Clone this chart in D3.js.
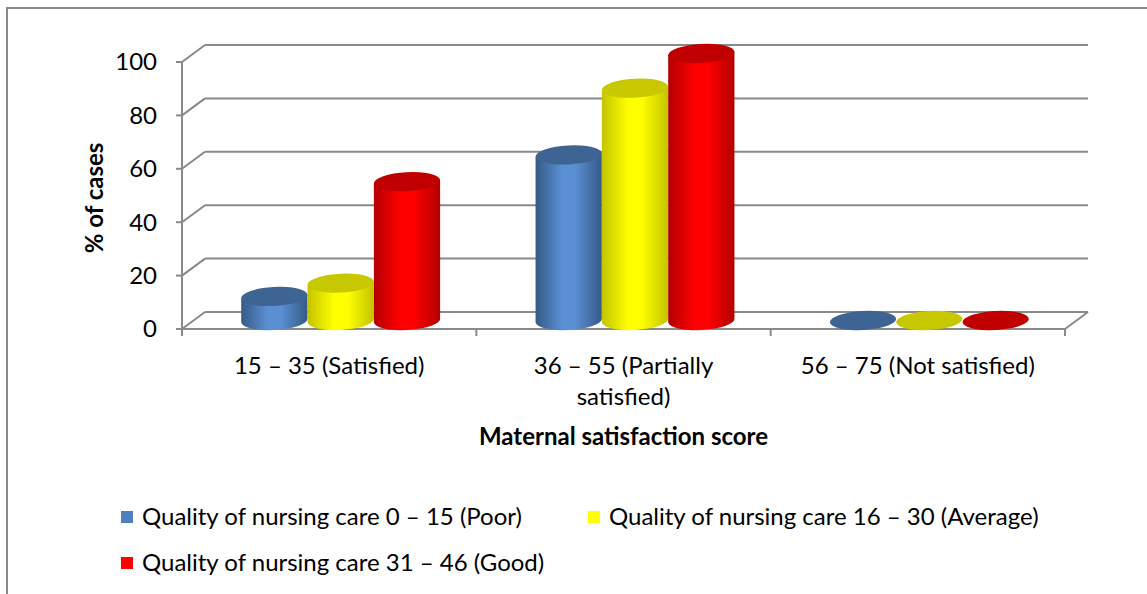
<!DOCTYPE html>
<html>
<head>
<meta charset="utf-8">
<script src="https://cdn.jsdelivr.net/npm/d3@7"></script>
<style>
  html, body { margin: 0; padding: 0; background: #fff; }
  svg { display: block; font-family: Lato, "Open Sans", sans-serif; }
</style>
</head>
<body>
<svg id="chart" width="1147" height="594"></svg>
<script>
// ---- data ----
const categories = ["15 – 35 (Satisfied)", "36 – 55 (Partially satisfied)", "56 – 75 (Not satisfied)"];
const seriesNames = [
  "Quality of nursing care 0 – 15 (Poor)",
  "Quality of nursing care 16 – 30 (Average)",
  "Quality of nursing care 31 – 46 (Good)"
];
const poorValues = [9, 62, 0];
const averageValues = [14, 87, 0];
const goodValues = [52, 100, 0];
const yTicks = [0, 20, 40, 60, 80, 100];
const yAxisTitle = "% of cases";
const xAxisTitle = "Maternal satisfaction score";

const seriesValues = [poorValues, averageValues, goodValues];
const palette = [
  { mid: "#5a8fd3", edge: "#365a87", top: "#3d6493" },
  { mid: "#ffff00", edge: "#c4c400", top: "#c8c800" },
  { mid: "#ff0000", edge: "#b30000", top: "#c00000" }
];

// ---- layout ----
const svg = d3.select("#chart");
const FS = 24;
const plotLeft = 182, plotRight = 1065, plotBottom = 329, plotTop = 62;
const depthX = 23, depthY = -17;   // back wall offset
const midX = depthX / 2, midY = depthY / 2;
const gridColor = "#8a8a8a";

// border
svg.append("rect").attr("x", 7).attr("y", 8).attr("width", 1160).attr("height", 600)
  .attr("fill", "none").attr("stroke", "#898989").attr("stroke-width", 2);

const y = d3.scaleLinear().domain([0, 100]).range([plotBottom, plotTop]);
const x0 = d3.scaleBand().domain(categories).range([plotLeft, plotRight]).paddingInner(0.324).paddingOuter(0.162);
const x1 = d3.scaleBand().domain(d3.range(3)).range([0, x0.bandwidth()]).padding(0);

const grid = svg.append("g").attr("stroke", gridColor).attr("stroke-width", 2).attr("fill", "none");
yTicks.forEach(t => {
  grid.append("line").attr("x1", plotLeft + depthX).attr("x2", plotRight + depthX)
    .attr("y1", y(t) + depthY).attr("y2", y(t) + depthY);
  grid.append("line").attr("x1", plotLeft).attr("x2", plotLeft + depthX)
    .attr("y1", y(t)).attr("y2", y(t) + depthY);
  grid.append("line").attr("x1", plotLeft - 6).attr("x2", plotLeft).attr("y1", y(t)).attr("y2", y(t));
});
grid.append("line").attr("x1", plotLeft).attr("x2", plotRight).attr("y1", plotBottom).attr("y2", plotBottom);
grid.append("line").attr("x1", plotRight).attr("x2", plotRight + depthX).attr("y1", plotBottom).attr("y2", plotBottom + depthY);
grid.append("line").attr("x1", plotLeft).attr("x2", plotLeft).attr("y1", plotTop).attr("y2", plotBottom);
const catEdges = categories.map(c => x0(c) - x0.step() * x0.paddingInner() / 2).concat([plotRight]);
catEdges.forEach(e => {
  grid.append("line").attr("x1", e).attr("x2", e).attr("y1", plotBottom).attr("y2", plotBottom + 7);
});

// y tick labels
svg.append("g").selectAll("text").data(yTicks).join("text")
  .attr("x", 157).attr("y", d => y(d)).attr("dy", "0.35em")
  .attr("text-anchor", "end").attr("font-size", FS).attr("fill", "#000")
  .text(d => d);

// y axis title
svg.append("text").attr("transform", "translate(103,198) rotate(-90)")
  .attr("text-anchor", "middle").attr("font-size", FS).attr("font-weight", "bold")
  .attr("fill", "#000").text(yAxisTitle);

// gradients
const defs = svg.append("defs");
palette.forEach((p, i) => {
  const g = defs.append("linearGradient").attr("id", "grad" + i)
    .attr("x1", "0%").attr("x2", "100%").attr("y1", "0%").attr("y2", "0%");
  g.append("stop").attr("offset", "0%").attr("stop-color", p.edge);
  g.append("stop").attr("offset", "40%").attr("stop-color", p.mid);
  g.append("stop").attr("offset", "60%").attr("stop-color", p.mid);
  g.append("stop").attr("offset", "100%").attr("stop-color", p.edge);
});

// cylinders
const tiltDeg = -3;
const rot = tiltDeg * Math.PI / 180;
const ry = 9.5;
const bars = svg.append("g");
categories.forEach((c, ci) => {
  seriesValues.forEach((vals, si) => {
    const v = vals[ci];
    const bx = x0(c) + x1(si) + midX;
    const w = x1.bandwidth();
    const rx = w / 2;
    const cx = bx + rx;
    const cyTop = y(v) + midY;
    const cyBot = y(0) + midY;
    const dxr = rx * Math.cos(rot), dyr = rx * Math.sin(rot);
    const g = bars.append("g");
    if (v > 0) {
      const path = `M${cx - dxr},${cyTop - dyr} L${cx - dxr},${cyBot - dyr} ` +
        `A${rx},${ry} ${tiltDeg} 0 0 ${cx + dxr},${cyBot + dyr} L${cx + dxr},${cyTop + dyr} Z`;
      g.append("path").attr("d", path).attr("fill", `url(#grad${si})`);
    }
    g.append("ellipse").attr("cx", cx).attr("cy", cyTop).attr("rx", rx).attr("ry", ry)
      .attr("transform", `rotate(${tiltDeg},${cx},${cyTop})`)
      .attr("fill", palette[si].top);
  });
});

// category labels with wrapping
const catG = svg.append("g");
categories.forEach(c => {
  const cxp = x0(c) + x0.bandwidth() / 2;
  const t = catG.append("text").attr("x", cxp).attr("y", 374).attr("text-anchor", "middle")
    .attr("font-size", FS).attr("fill", "#000");
  const words = c.split(" ");
  let line = [];
  let tspan = t.append("tspan").attr("x", cxp).attr("dy", 0);
  words.forEach(wd => {
    line.push(wd);
    tspan.text(line.join(" "));
    if (tspan.node().getComputedTextLength() > 262 && line.length > 1) {
      line.pop();
      tspan.text(line.join(" "));
      line = [wd];
      tspan = t.append("tspan").attr("x", cxp).attr("dy", 31).text(wd);
    }
  });
});

// x axis title
svg.append("text").attr("x", (plotLeft + plotRight) / 2).attr("y", 445).attr("text-anchor", "middle")
  .attr("font-size", FS).attr("font-weight", "bold").attr("fill", "#000").text(xAxisTitle);

// legend
const legendPos = [
  { x: 121, y: 517 },
  { x: 588, y: 517 },
  { x: 121, y: 563 }
];
const lg = svg.append("g");
seriesNames.forEach((n, i) => {
  const p = legendPos[i];
  lg.append("rect").attr("x", p.x).attr("y", p.y - 6).attr("width", 12).attr("height", 12)
    .attr("fill", i === 0 ? "#4f81bd" : palette[i].mid);
  lg.append("text").attr("x", p.x + 21).attr("y", p.y).attr("dy", "0.35em")
    .attr("font-size", FS).attr("fill", "#000").text(n);
});
</script>
</body>
</html>
